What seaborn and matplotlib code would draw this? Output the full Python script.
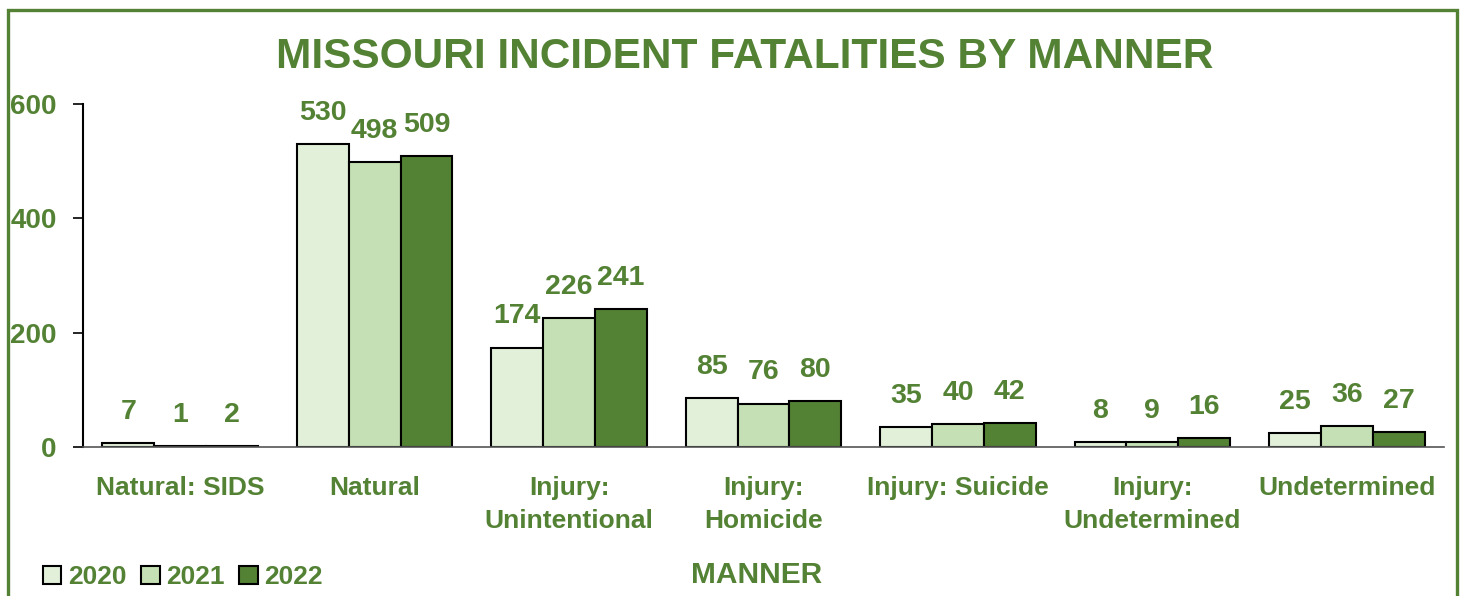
import matplotlib
matplotlib.use("Agg")
import matplotlib.pyplot as plt
import seaborn as sns
import pandas as pd
from matplotlib.patches import Rectangle, Patch

categories = ["Natural: SIDS", "Natural", "Injury:\nUnintentional", "Injury:\nHomicide",
              "Injury: Suicide", "Injury:\nUndetermined", "Undetermined"]
years = ["2020", "2021", "2022"]
values_2020 = [7, 530, 174, 85, 35, 8, 25]
values_2021 = [1, 498, 226, 76, 40, 9, 36]
values_2022 = [2, 509, 241, 80, 42, 16, 27]
yticks = [0, 200, 400, 600]

GREEN = "#548235"
colors = ["#E2F0D9", "#C5E0B4", "#548235"]

sns.set_style("white")
FONT = ["Liberation Sans", "DejaVu Sans"]
plt.rcParams["font.family"] = FONT

rows = []
for y, vals in zip(years, [values_2020, values_2021, values_2022]):
    for c, v in zip(categories, vals):
        rows.append({"manner": c, "year": y, "value": v})
df = pd.DataFrame(rows)

fig = plt.figure(figsize=(14.66, 5.96), dpi=100)
ax = fig.add_axes([83/1466, 1-447/596, (1444-83)/1466, (447-104)/596])

sns.barplot(data=df, x="manner", y="value", hue="year", order=categories,
            hue_order=years, palette=colors, edgecolor="black", linewidth=1.5,
            width=0.8, ax=ax, legend=False, saturation=1)

for cont in ax.containers:
    ax.bar_label(cont, padding=13, color=GREEN, fontsize=20.5, fontweight="bold")

ax.set_ylim(0, 600)
ax.set_xlim(-0.5, len(categories) - 0.5)
ax.set_yticks(yticks)
ax.set_yticklabels([str(t) for t in yticks], color=GREEN, fontsize=20, fontweight="bold")
ax.tick_params(axis="y", direction="out", length=7, width=1.2, pad=12, left=True, color="black")
ax.set_xticks(range(len(categories)))
ax.set_xticklabels(categories, color=GREEN, fontsize=19, fontweight="bold", va="top",
                   linespacing=1.45)
ax.tick_params(axis="x", length=0, pad=21)
ax.set_xticks([i - 0.5 for i in range(len(categories) + 1)], minor=True)
ax.tick_params(axis="x", which="minor", direction="out", length=7, width=1.2, color="black")

for s in ["top", "right"]:
    ax.spines[s].set_visible(False)
ax.spines["left"].set_color("black")
ax.spines["left"].set_linewidth(1.5)
ax.spines["bottom"].set_color("#555555")
ax.spines["bottom"].set_linewidth(1.2)

ax.set_xlabel("MANNER", color=GREEN, fontsize=21.5, fontweight="bold", va="center")
ax.xaxis.set_label_coords((757-83)/(1444-83), -(575-447)/(447-104))
ax.set_ylabel("")

fig.text(745/1466, 1-57/596, "MISSOURI INCIDENT FATALITIES BY MANNER", ha="center", va="center",
         color=GREEN, fontsize=30.5, fontweight="bold")

handles = [Patch(facecolor=c, edgecolor="black", linewidth=1.5) for c in colors]
leg = fig.legend(handles, years, loc="center left", bbox_to_anchor=(43/1466, 1-577/596),
                 ncol=3, frameon=False, handlelength=0.7, handleheight=0.7,
                 handletextpad=0.25, columnspacing=0.55, borderaxespad=0, borderpad=0,
                 prop={"size": 19, "weight": "bold"})
for t in leg.get_texts():
    t.set_color(GREEN)

fig.patches.append(Rectangle((8/1466, -0.05), (1457-8)/1466, 1.05-10/596,
                             transform=fig.transFigure, fill=False,
                             edgecolor=GREEN, linewidth=2.4))

fig.savefig("out.png", dpi=100)
